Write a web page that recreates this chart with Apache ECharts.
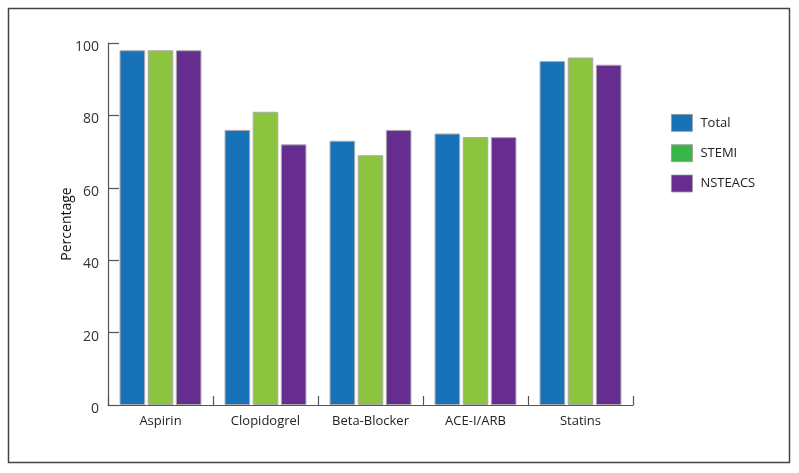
<!DOCTYPE html>
<html>
<head>
<meta charset="utf-8">
<script src="https://cdn.jsdelivr.net/npm/echarts@6/dist/echarts.min.js"></script>
<style>html,body{margin:0;padding:0;background:#fff;}#c{width:799px;height:473px;}</style>
</head>
<body>
<div id="c"></div>
<script>
const categories = ['Aspirin', 'Clopidogrel', 'Beta-Blocker', 'ACE-I/ARB', 'Statins'];
const seriesNames = ['Total', 'STEMI', 'NSTEACS'];
const totalValues = [98, 76, 73, 75, 95];
const stemiValues = [98, 81, 69, 74, 96];
const nsteacsValues = [98, 72, 76, 74, 94];
const yTicks = [0, 20, 40, 60, 80, 100];

const barColors = ['#1872b8', '#8cc43f', '#662c8f'];
const legendColors = ['#1872b8', '#3ab54a', '#662c8f'];
const FONT = '"Open Sans", "Noto Sans", sans-serif';

const chart = echarts.init(document.getElementById('c'), null, {renderer: 'canvas'});
const dataSets = [totalValues, stemiValues, nsteacsValues];
chart.setOption({
  animation: false,
  backgroundColor: '#fff',
  graphic: [{
    type: 'rect',
    shape: {x: 8.5, y: 8.5, width: 781, height: 454},
    style: {fill: 'none', stroke: '#444', lineWidth: 1.5},
    silent: true
  }],
  grid: {left: 108, right: 166, top: 43, bottom: 68},
  legend: {
    orient: 'vertical',
    left: 671,
    top: 114,
    padding: 0,
    itemWidth: 21,
    itemHeight: 17,
    itemGap: 12.5,
    textStyle: {fontFamily: FONT, fontSize: 13, color: '#222', padding: [0, 0, 0, 3]},
    data: seriesNames.map((n, i) => ({name: n, icon: 'rect', itemStyle: {color: legendColors[i], borderColor: '#999', borderWidth: 0.8}}))
  },
  xAxis: {
    type: 'category',
    data: categories,
    axisLine: {show: true, lineStyle: {color: '#555', width: 1.2}},
    axisTick: {show: true, inside: true, length: 9, lineStyle: {color: '#555', width: 1.2}},
    axisLabel: {fontFamily: FONT, fontSize: 13, color: '#222', margin: 10}
  },
  yAxis: {
    type: 'value',
    min: 0,
    max: 100,
    interval: 20,
    name: 'Percentage',
    nameLocation: 'middle',
    nameGap: 34,
    nameMoveOverlap: false,
    nameTextStyle: {fontFamily: FONT, fontSize: 14, color: '#111', fontWeight: 500},
    axisLine: {show: true, lineStyle: {color: '#555', width: 1.2}},
    axisTick: {show: true, inside: true, length: 11, lineStyle: {color: '#555', width: 1.2}},
    splitLine: {show: false},
    axisLabel: {
      fontFamily: FONT, fontSize: 14, color: '#333', margin: 9,
      verticalAlign: 'top', lineHeight: 8,
      formatter: v => yTicks.includes(v) ? String(v) : ''
    }
  },
  series: seriesNames.map((n, i) => ({
    name: n,
    type: 'bar',
    data: dataSets[i],
    barCategoryGap: '22%',
    barGap: '10%',
    itemStyle: {color: barColors[i], borderColor: '#aaa', borderWidth: 1}
  }))
});
</script>
</body>
</html>
